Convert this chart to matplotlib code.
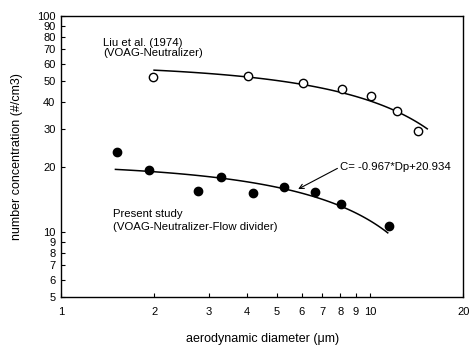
import matplotlib.pyplot as plt
import numpy as np
from matplotlib.ticker import FixedLocator, NullLocator, FixedFormatter

plt.rcParams['font.family'] = ['Liberation Sans', 'DejaVu Sans']

# Liu et al. (1974) - open circles
liu_dp = [1.99, 4.03, 6.07, 8.1, 10.1, 12.2, 14.3]
liu_c = [52.2, 52.5, 49.0, 45.9, 42.6, 36.3, 29.4]
liu_fit = (-1.96, 60.0)          # linear fit, estimated
liu_range = (2.0, 15.3)

# Present study - filled circles
ps_dp = [1.52, 1.93, 2.77, 3.3, 4.18, 5.27, 6.64, 8.06, 11.5]
ps_c = [23.5, 19.4, 15.5, 18.0, 15.2, 16.2, 15.3, 13.5, 10.7]
ps_fit = (-0.967, 20.934)        # from the chart's annotation
ps_range = (1.5, 11.4)

xticks = [1, 2, 3, 4, 5, 6, 7, 8, 9, 10, 20]
yticks = [5, 6, 7, 8, 9, 10, 20, 30, 40, 50, 60, 70, 80, 90, 100]

fig = plt.figure(figsize=(4.71, 3.45), dpi=100)
ax = fig.add_axes([0.1295, 0.139, 0.854, 0.815])
ax.set_xscale('log')
ax.set_yscale('log')

x = np.linspace(*liu_range, 100)
ax.plot(x, liu_fit[0] * x + liu_fit[1], color='black', lw=1.1)
x = np.linspace(*ps_range, 100)
ax.plot(x, ps_fit[0] * x + ps_fit[1], color='black', lw=1.1)

ax.plot(liu_dp, liu_c, 'o', mfc='white', mec='black', ms=6, mew=1.0)
ax.plot(ps_dp, ps_c, 'o', color='black', ms=6)

fs = 8.2
ax.text(1.37, 75, 'Liu et al. (1974)', fontsize=fs, va='center')
ax.text(1.37, 67, '(VOAG-Neutralizer)', fontsize=fs, va='center')
ax.text(1.47, 12.1, 'Present study', fontsize=fs, va='center')
ax.text(1.47, 10.6, '(VOAG-Neutralizer-Flow divider)', fontsize=fs, va='center')

ax.annotate('C= -0.967*Dp+20.934', xy=(5.85, 15.8), xytext=(8.0, 20.0),
            fontsize=fs, va='center',
            arrowprops=dict(arrowstyle='->', color='black', lw=0.8,
                            shrinkA=0, shrinkB=0,
                            relpos=(0, 0.5)))

ax.set_xlim(1, 20)
ax.set_ylim(5, 100)
ax.xaxis.set_major_locator(FixedLocator(xticks))
ax.xaxis.set_major_formatter(FixedFormatter([str(t) for t in xticks]))
ax.xaxis.set_minor_locator(NullLocator())
ax.yaxis.set_major_locator(FixedLocator(yticks))
ax.yaxis.set_major_formatter(FixedFormatter([str(t) for t in yticks]))
ax.yaxis.set_minor_locator(NullLocator())
ax.tick_params(direction='in', length=3, labelsize=8, pad=7)
ax.tick_params(axis='y', pad=4)

ax.set_xlabel('aerodynamic diameter (\u03bcm)', fontsize=9, labelpad=12)
ax.set_ylabel('number concentration (#/cm3)', fontsize=9, labelpad=10)
for s in ax.spines.values():
    s.set_linewidth(1.0)

plt.savefig('out.png', dpi=100)
